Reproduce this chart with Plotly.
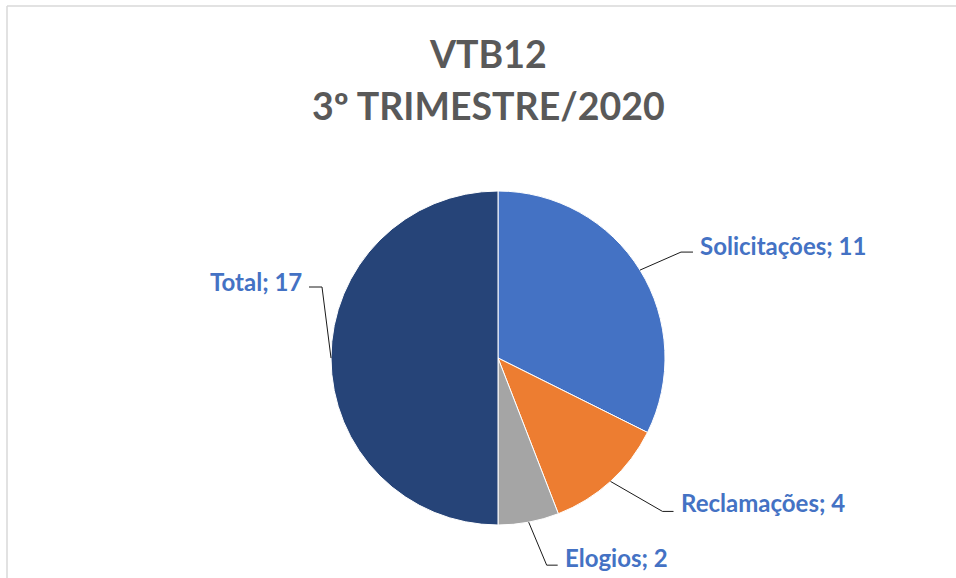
import math
import plotly.graph_objects as go

# Chart data
categories = ["Solicitações", "Reclamações", "Elogios", "Total"]
values = [11, 4, 2, 17]
colors = ["#4472C4", "#ED7D31", "#A5A5A5", "#264478"]
title_lines = ["VTB12", "3º TRIMESTRE/2020"]

W, H = 956, 578

# Pie placement in pixels
CX, CY, R = 498, 358, 167
dom_x = [(CX - R) / W, (CX + R) / W]
dom_y = [1 - (CY + R) / H, 1 - (CY - R) / H]

fig = go.Figure(go.Pie(
    labels=categories,
    values=values,
    sort=False,
    direction="clockwise",
    rotation=0,
    marker=dict(colors=colors, line=dict(color="white", width=1)),
    textinfo="none",
    hoverinfo="label+value",
    showlegend=False,
    domain=dict(x=dom_x, y=dom_y),
))

# Leader-line layout per label: elbow offset from slice edge, stub length, label gap, text lift
label_style = {
    "Solicitações": dict(elbow=(41, -18), stub=12, gap=5, lift=-7),
    "Reclamações": dict(elbow=(52, 30), stub=11, gap=5, lift=-9),
    "Elogios": dict(elbow=(18, 43), stub=11, gap=5, lift=-8),
    "Total": dict(elbow=(-9, -71), stub=-13, gap=-5, lift=-6),
}

def px(x):
    return x / W

def py(y):
    return 1 - y / H

shapes = []
annotations = []
total = sum(values)
acc = 0
for cat, v in zip(categories, values):
    mid = (acc + v / 2) / total * 2 * math.pi
    acc += v
    ex = CX + R * math.sin(mid)
    ey = CY - R * math.cos(mid)
    st = label_style[cat]
    bx, by = ex + st["elbow"][0], ey + st["elbow"][1]
    tx = bx + st["stub"]
    path = f"M {px(ex)} {py(ey)} L {px(bx)} {py(by)} L {px(tx)} {py(by)}"
    shapes.append(dict(type="path", xref="paper", yref="paper", path=path,
                       line=dict(color="#1a1a1a", width=1)))
    right_side = st["stub"] > 0
    annotations.append(dict(
        x=px(tx + st["gap"]), y=py(by + st["lift"]), xref="paper", yref="paper",
        text=f"<b>{cat}; {v}</b>", showarrow=False,
        xanchor="left" if right_side else "right", yanchor="middle",
        font=dict(family="Lato", size=24, color="#4472C4"),
    ))

# Title lines
for txt, y in zip(title_lines, [54, 105]):
    annotations.append(dict(
        x=px(488), y=py(y), xref="paper", yref="paper", text=f"<b>{txt}</b>",
        showarrow=False, xanchor="center", yanchor="middle",
        font=dict(family="Lato", size=37.5, color="#595959"),
    ))

# Chart-area frame (top and left edges)
frame_c = "#D9D9D9"
shapes.append(dict(type="line", xref="paper", yref="paper", x0=px(7), x1=1, y0=py(6), y1=py(6),
                   line=dict(color=frame_c, width=1.5)))
shapes.append(dict(type="line", xref="paper", yref="paper", x0=px(7), x1=px(7), y0=py(6), y1=0,
                   line=dict(color=frame_c, width=1.5)))

fig.update_layout(
    width=W, height=H,
    margin=dict(l=0, r=0, t=0, b=0),
    paper_bgcolor="white", plot_bgcolor="white",
    shapes=shapes, annotations=annotations,
)

fig.write_html("out.html")
